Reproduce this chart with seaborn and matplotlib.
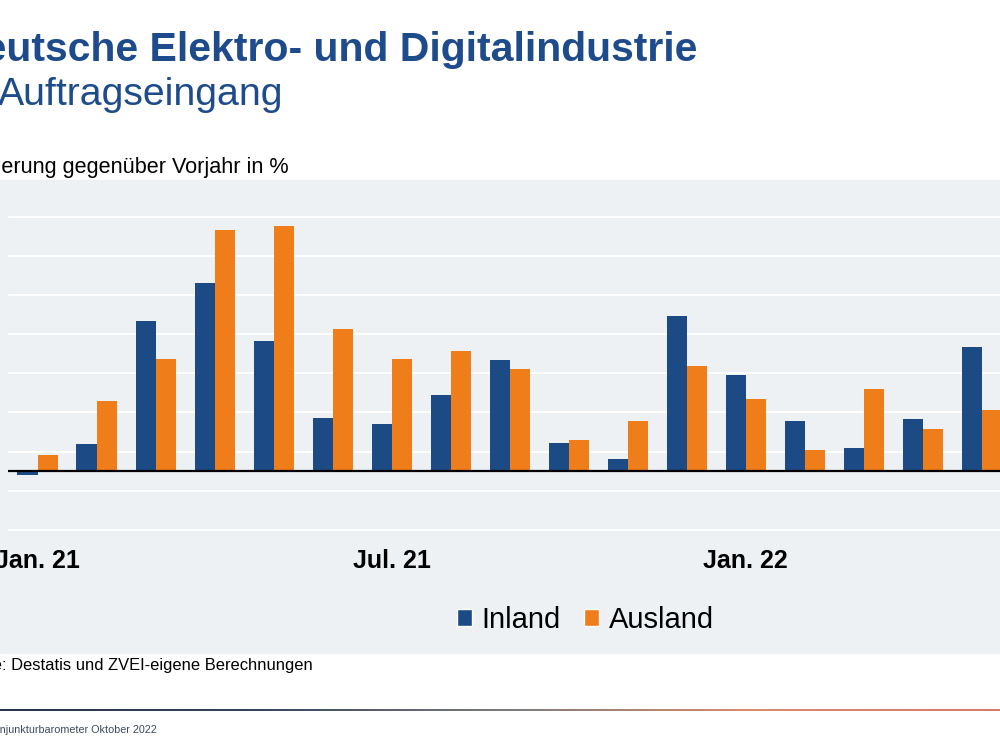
import numpy as np
import pandas as pd
import seaborn as sns
import matplotlib.pyplot as plt
from matplotlib.patches import Rectangle, Patch
from matplotlib.colors import LinearSegmentedColormap

# Monate (sichtbarer Ausschnitt) und Veraenderung ggue. Vorjahr in %
monate = ['Jan. 21', 'Feb. 21', 'Mrz. 21', 'Apr. 21', 'Mai 21', 'Jun. 21',
          'Jul. 21', 'Aug. 21', 'Sep. 21', 'Okt. 21', 'Nov. 21', 'Dez. 21',
          'Jan. 22', 'Feb. 22', 'Mrz. 22', 'Apr. 22', 'Mai 22']
inland = [-1.0, 7.0, 38.4, 48.0, 33.3, 13.5, 12.1, 19.4, 28.4, 7.2, 3.2,
          39.7, 24.5, 12.7, 5.9, 13.2, 31.8]
ausland = [4.2, 17.8, 28.7, 61.5, 62.6, 36.2, 28.7, 30.7, 26.2, 7.9, 12.9,
           26.9, 18.5, 5.3, 21.1, 10.7, 15.5]
tick_monate = ['Jan. 21', 'Jul. 21', 'Jan. 22']

BLUE = '#1b4a85'
ORANGE = '#ef7d1a'
TITLE_BLUE = '#1d4b8c'
BG = '#edf1f4'

df = pd.DataFrame({
    'Monat': monate * 2,
    'Wert': inland + ausland,
    'Reihe': ['Inland'] * len(monate) + ['Ausland'] * len(monate),
})

sns.set_theme(style='white')
plt.rcParams['font.family'] = ['Liberation Sans', 'DejaVu Sans']

fig = plt.figure(figsize=(10, 7.5), dpi=100)
fig.patch.set_facecolor('white')

# grey chart panel
fig.patches.append(Rectangle((0, 1 - 653 / 750), 1, (653 - 180) / 750,
                             transform=fig.transFigure, color=BG, zorder=-5))

ax = fig.add_axes([0.008, 1 - 549.5 / 750, 0.992, (549.5 - 197) / 750])
ax.set_facecolor('none')
ax.set_zorder(2)

sns.barplot(data=df, x='Monat', y='Wert', hue='Reihe', order=monate,
            hue_order=['Inland', 'Ausland'], palette=[BLUE, ORANGE],
            width=0.68, gap=0, saturation=1, legend=False, ax=ax, zorder=3,
            linewidth=0, edgecolor='none')

ax.set_ylim(-20, 70)
ax.set_xlim(-0.5, (1000 - 38) / 59)
ax.set_yticks(np.arange(-15, 70, 10))
ax.yaxis.grid(True, color='white', lw=1.4)
ax.set_axisbelow(True)
ax.tick_params(axis='y', length=0, labelleft=False)
ax.axhline(0, color='black', lw=1.6, zorder=4)

ax.set_xticks([monate.index(m) for m in tick_monate])
ax.set_xticklabels(tick_monate, fontsize=18, fontweight='bold', color='black')
ax.tick_params(axis='x', length=0, pad=0)
ax.set_xlabel('')
ax.set_ylabel('')
for s in ax.spines.values():
    s.set_visible(False)

handles = [Patch(facecolor=BLUE, label='Inland'), Patch(facecolor=ORANGE, label='Ausland')]
fig.legend(handles=handles, loc='center', bbox_to_anchor=(0.5855, 1 - 620 / 750),
           ncol=2, frameon=False, fontsize=21, handlelength=0.52, handleheight=0.55,
           handletextpad=0.32, columnspacing=0.8, borderpad=0, labelcolor='black')

# titles (slide is cropped on the left)
fig.text(0.697, 1 - 61 / 750, 'Deutsche Elektro- und Digitalindustrie', ha='right',
         va='baseline', fontsize=29.5, fontweight='bold', color=TITLE_BLUE)
fig.text(0.283, 1 - 105 / 750, 'Auftragseingang', ha='right', va='baseline',
         fontsize=28.3, color=TITLE_BLUE)
fig.text(0.289, 1 - 173 / 750, 'Veränderung gegenüber Vorjahr in %', ha='right',
         va='baseline', fontsize=15.6, color='black')
fig.text(0.313, 1 - 670 / 750, 'Quelle: Destatis und ZVEI-eigene Berechnungen',
         ha='right', va='baseline', fontsize=11.9, color='black')
fig.text(0.157, 1 - 733 / 750, 'ZVEI-Konjunkturbarometer Oktober 2022', ha='right',
         va='baseline', fontsize=7.75, color='#3c4a5c')

# footer gradient line
lax = fig.add_axes([0, 1 - 711.5 / 750, 1, 3 / 750])
cmap = LinearSegmentedColormap.from_list('foot', ['#26364c', '#34445a', '#7a7a80',
                                                  '#d98c68', '#dc7a6a'])
lax.imshow(np.linspace(0, 1, 256)[None, :], aspect='auto', cmap=cmap)
lax.axis('off')

fig.savefig('out.png', dpi=100)
